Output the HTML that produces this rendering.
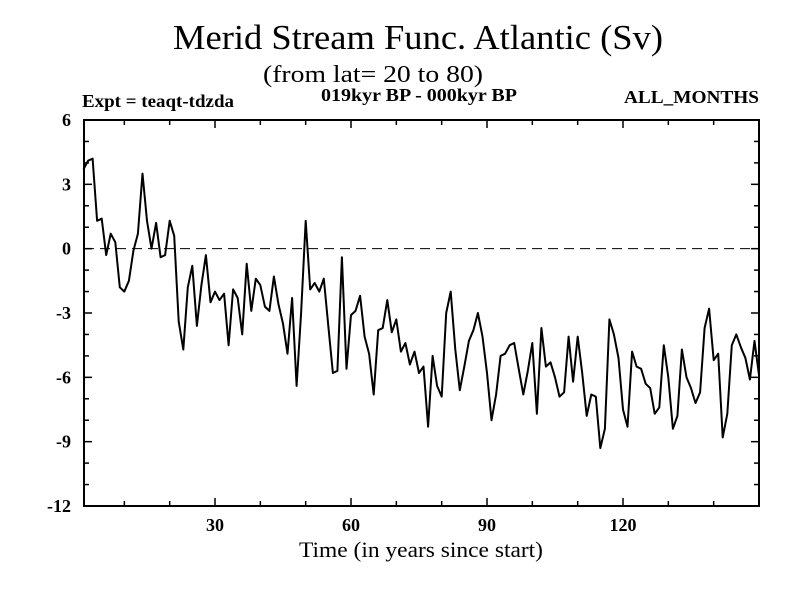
<!DOCTYPE html>
<html><head><meta charset="utf-8"><style>
body{margin:0;background:#fff}
svg text{font-family:"Liberation Serif",serif;fill:#000}
</style></head><body>
<svg id="chart" width="800" height="600" xmlns="http://www.w3.org/2000/svg">
<rect width="800" height="600" fill="#fff"/>
<text x="173" y="49" font-size="35" textLength="490" lengthAdjust="spacingAndGlyphs">Merid Stream Func. Atlantic (Sv)</text>
<text x="263" y="82" font-size="24" textLength="220" lengthAdjust="spacingAndGlyphs">(from lat= 20 to 80)</text>
<text x="82" y="107" font-size="18" font-weight="bold" textLength="152" lengthAdjust="spacingAndGlyphs">Expt = teaqt-tdzda</text>
<text x="321" y="101" font-size="18" font-weight="bold" textLength="196" lengthAdjust="spacingAndGlyphs">019kyr BP - 000kyr BP</text>
<text x="624" y="103" font-size="18" font-weight="bold" textLength="135" lengthAdjust="spacingAndGlyphs">ALL_MONTHS</text>
<text x="299" y="557" font-size="22" textLength="244" lengthAdjust="spacingAndGlyphs">Time (in years since start)</text>
<g id="axes"></g>
<line id="zero" stroke="#000" stroke-width="1" stroke-dasharray="10,6"/>
<path id="series" fill="none" stroke="#000" stroke-width="2" stroke-linejoin="round"/>
<rect x="84" y="120" width="675" height="386" fill="none" stroke="#000" stroke-width="2"/>
</svg>
<script>
const years = Array.from({length:150},(_,i)=>i+1);
const values = [3.7,4.1,4.2,1.3,1.4,-0.3,0.7,0.3,-1.8,-2.0,
-1.5,-0.1,0.7,3.5,1.3,0,1.2,-0.4,-0.3,1.3,
0.6,-3.4,-4.7,-1.8,-0.8,-3.6,-1.7,-0.3,-2.5,-2.0,
-2.4,-2.1,-4.5,-1.9,-2.3,-4.0,-0.7,-2.9,-1.4,-1.7,
-2.7,-2.9,-1.3,-2.6,-3.5,-4.9,-2.3,-6.4,-3.0,1.3,
-1.9,-1.6,-2.0,-1.4,-3.6,-5.8,-5.7,-0.4,-5.6,-3.1,
-2.9,-2.2,-4.1,-4.9,-6.8,-3.8,-3.7,-2.4,-3.9,-3.3,
-4.8,-4.4,-5.4,-4.8,-5.8,-5.5,-8.3,-5.0,-6.4,-6.9,
-3.0,-2.0,-4.7,-6.6,-5.5,-4.3,-3.8,-3.0,-4.1,-5.8,
-8.0,-6.8,-5.0,-4.9,-4.5,-4.4,-5.6,-6.8,-5.7,-4.4,
-7.7,-3.7,-5.5,-5.3,-6.0,-6.9,-6.7,-4.1,-6.2,-4.1,
-5.8,-7.8,-6.8,-6.9,-9.3,-8.4,-3.3,-4.0,-5.1,-7.5,
-8.3,-4.8,-5.5,-5.6,-6.3,-6.5,-7.7,-7.4,-4.5,-6.0,
-8.4,-7.8,-4.7,-6.0,-6.5,-7.2,-6.7,-3.7,-2.8,-5.2,
-4.9,-8.8,-7.7,-4.5,-4.0,-4.6,-5.1,-6.1,-4.3,-5.9];
const yTicks = [6,3,0,-3,-6,-9,-12];
const xTicks = [30,60,90,120];
const L=84,R=759,T=120,B=506,X0=1.1,X1=150,Y0=-12,Y1=6;
const sx=v=>L+(v-X0)/(X1-X0)*(R-L);
const sy=v=>B-(v-Y0)/(Y1-Y0)*(B-T);
const NS="http://www.w3.org/2000/svg";
const ax=document.getElementById('axes');
function ln(x1,y1,x2,y2,name){const l=document.createElementNS(NS,'line');
l.setAttribute('x1',x1);l.setAttribute('y1',y1);l.setAttribute('x2',x2);l.setAttribute('y2',y2);
l.setAttribute('stroke','#000');l.setAttribute('stroke-width','1.5');


ax.appendChild(l);}
function tx(x,y,s,anchor,name){const t=document.createElementNS(NS,'text');
t.setAttribute('x',x);t.setAttribute('y',y);t.setAttribute('font-size','18');t.setAttribute('font-weight','bold');t.setAttribute('text-anchor',anchor);t.textContent=s;


ax.appendChild(t);}
for(let v=Y0;v<=Y1;v++){const major=v%3===0;const len=major?8:5;
ln(L,sy(v),L+len,sy(v),'y-tick');ln(R,sy(v),R-len,sy(v),'y-tick-right');}
yTicks.forEach(v=>tx(L-13,sy(v)+6,String(v),'end','y-tick-label'));
for(let v=10;v<=140;v+=10){const major=v%30===0;const len=major?8:5;
ln(sx(v),B,sx(v),B-len,'x-tick');ln(sx(v),T,sx(v),T+len,'x-tick-top');}
xTicks.forEach(v=>tx(sx(v),B+25,String(v),'middle','x-tick-label'));
const z=document.getElementById('zero');
z.setAttribute('x1',L);z.setAttribute('x2',R);z.setAttribute('y1',sy(0));z.setAttribute('y2',sy(0));
document.getElementById('series').setAttribute('d',years.map((y,i)=>(i?'L':'M')+sx(y).toFixed(1)+','+sy(values[i]).toFixed(1)).join(''));
</script>
</body></html>
